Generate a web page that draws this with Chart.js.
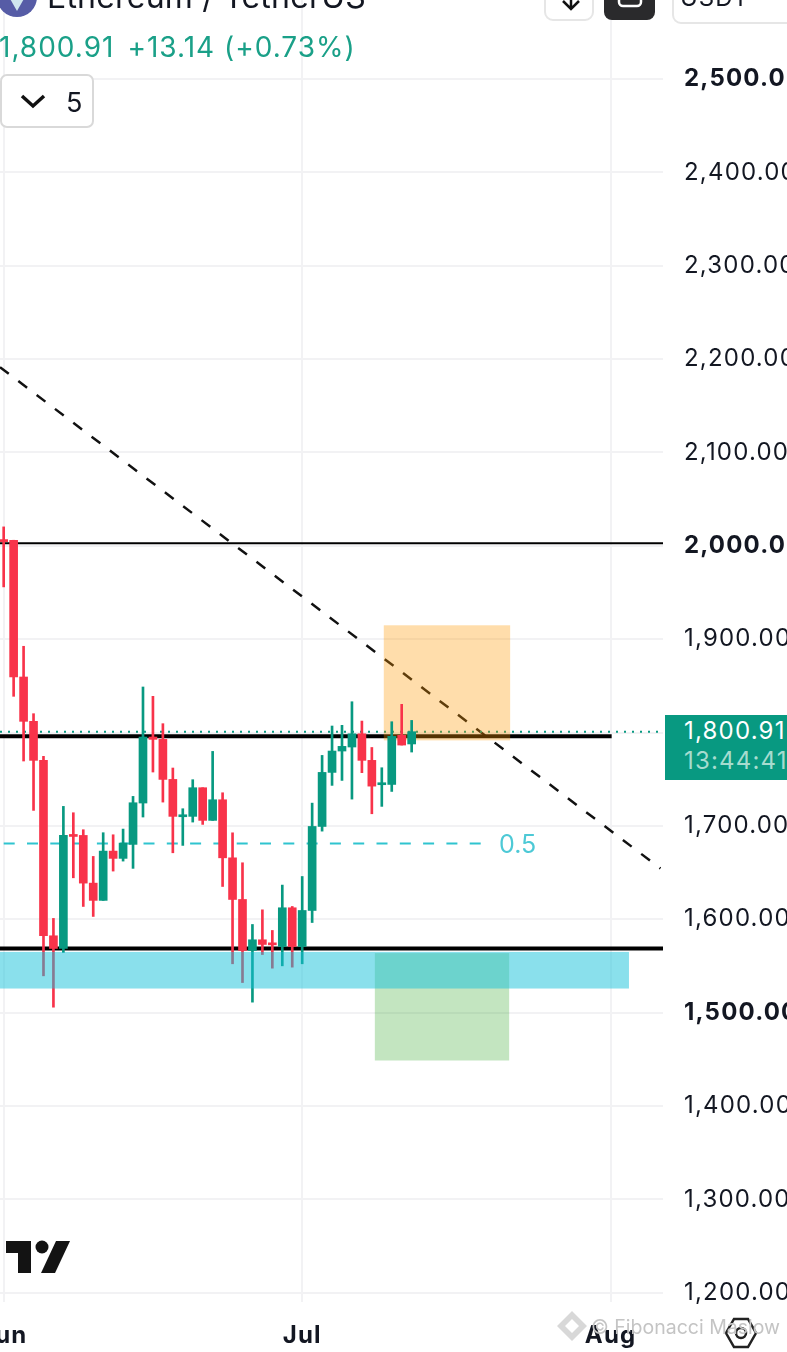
<!DOCTYPE html>
<html>
<head>
<meta charset="utf-8">
<title>Ethereum / TetherUS</title>
<script src="https://cdn.jsdelivr.net/npm/chart.js@4"></script>
<style>
html, body { margin: 0; padding: 0; background: #fff; overflow: hidden; }
body { position: relative; width: 787px; height: 1352px; font-family: Inter, "Noto Sans", sans-serif; }
canvas { position: absolute; left: 0; top: 0; }
.abs { position: absolute; white-space: nowrap; }
</style>
</head>
<body>
<canvas id="chart" width="787" height="1352"></canvas>

<!-- top toolbar, cut by the screenshot edge -->
<svg class="abs" style="left:0;top:0" width="787" height="140">
    <circle cx="17" cy="-3" r="20" fill="#565ca6"/>
    <path d="M17 -3 L25 -3 L17 11 L9 -3 Z" fill="#cfe6ee"/>
    <rect x="545" y="-30" width="48" height="50" rx="8" fill="#fff" stroke="#e6e6e6" stroke-width="2"/>
    <path d="M563 1 L571 9 L579 1 M571 9 L571 -4" fill="none" stroke="#111" stroke-width="2.5"/>
    <rect x="604" y="-30" width="51" height="50" rx="8" fill="#2a2a2c"/>
    <rect x="619" y="-14" width="22" height="20" rx="4" fill="none" stroke="#fff" stroke-width="2.5"/>
    <rect x="673" y="-30" width="130" height="53" rx="8" fill="#fff" stroke="#e6e6e6" stroke-width="2"/>
    <rect x="1" y="75" width="92" height="52" rx="6" fill="#fff" stroke="#d9d9d9" stroke-width="2"/>
    <path d="M22 96 L33 106 L44 96" fill="none" stroke="#111" stroke-width="3.5"/>
</svg>
<div class="abs" style="left:47px;top:-23px;font-size:32px;letter-spacing:0.2px;color:#131722">Ethereum / TetherUS</div>
<div class="abs" style="left:680px;top:-17px;font-size:24px;color:#131722;letter-spacing:1px">USDT</div>
<div class="abs" style="left:-1px;top:30px;font-size:28px;letter-spacing:1px;color:#1aa088"><span>1,800.91</span><span style="margin-left:13px">+13.14 (+0.73%)</span></div>
<div class="abs" style="left:66px;top:86px;font-size:27px;color:#131722">5</div>

<div class="abs" style="left:499px;top:829px;font-size:25px;color:#4dc9d6">0.5</div>

<!-- last price tag -->
<div class="abs" style="left:665px;top:715px;width:122px;height:65px;background:#089981;overflow:hidden">
    <div class="abs" style="left:19px;top:1px;font-size:24px;letter-spacing:1.2px;color:#fff">1,800.91</div>
    <div class="abs" style="left:19px;top:31px;font-size:24px;letter-spacing:1.2px;color:#a6dccf">13:44:41</div>
</div>

<!-- TradingView mark -->
<svg class="abs" style="left:0;top:1235px" width="80" height="45">
    <path d="M6 6 H31 V38 H18 V18 H6 Z" fill="#131313"/>
    <circle cx="42" cy="12" r="6.5" fill="#131313"/>
    <path d="M56 6 H70 L55 38 H41 Z" fill="#131313"/>
</svg>

<!-- watermark and settings icon -->
<svg class="abs" style="left:555px;top:1310px" width="220" height="42">
    <path d="M17 1 L32 16 L17 31 L2 16 Z M17 9 L24 16 L17 23 L10 16 Z" fill="#d8d8d8" fill-rule="evenodd"/>
    <path d="M179 9 H193 L201 23 L193 37 H179 L171 23 Z" fill="none" stroke="#222" stroke-width="2.5"/>
    <circle cx="186" cy="23" r="5" fill="none" stroke="#222" stroke-width="2.5"/>
</svg>
<div class="abs" style="left:591px;top:1315px;font-size:19.5px;color:#c4c4c4">© Fibonacci Maslow</div>

<script>
// days counted from Jun 1
const days = [0, 1, 2, 3, 4, 5, 6, 7, 8, 9, 10, 11, 12, 13, 14, 15, 16, 17, 18, 19, 20,
    21, 22, 23, 24, 25, 26, 27, 28, 29, 30, 31, 32, 33, 34, 35, 36, 37, 38, 39, 40, 41];
const opens = [2006.7, 2006, 1859.5, 1812, 1770.2, 1582.3, 1568.7, 1690.5, 1689.8, 1638.7, 1620.2,
    1673, 1665.2, 1680.2, 1724.5, 1795.2, 1792.7, 1749.8, 1709.8, 1710.2, 1740.9,
    1705.9, 1728, 1665.8, 1621.2, 1566.6, 1578, 1574, 1570.8, 1612.3, 1570.8,
    1609.4, 1699.4, 1757.3, 1780.2, 1784.5, 1798.7, 1770.2, 1744.1, 1744.4, 1797, 1787.77];
const highs = [2020.3, 2006, 1892.4, 1820.2, 1774.5, 1600.9, 1720.9, 1714.1, 1695.9, 1667.3, 1692.7,
    1690.5, 1696.6, 1731.6, 1848.8, 1838.8, 1809.5, 1762, 1718.4, 1749.5, 1740.9,
    1779.8, 1735.5, 1692.6, 1660.5, 1594.4, 1610.1, 1588, 1636.6, 1613.7, 1645.8,
    1724.4, 1775.5, 1807, 1807.7, 1833, 1812.3, 1784, 1762.3, 1811.6, 1830.2, 1813];
const lows = [1956, 1838.8, 1769.5, 1716.6, 1539.4, 1505.8, 1564.4, 1644.4, 1613.7, 1603, 1620.2,
    1651.6, 1662.3, 1654.5, 1709.5, 1757.7, 1725.5, 1671.2, 1679.1, 1704.1, 1701.6,
    1705.9, 1635.1, 1552.3, 1532.2, 1511.2, 1562.2, 1547.6, 1550.1, 1548.7, 1552.3,
    1596.5, 1694.4, 1743.4, 1748.7, 1728.7, 1757, 1713, 1720.9, 1736.9, 1786.6, 1779.1];
const closes = [2004.5, 1859.5, 1812, 1770.2, 1582.3, 1568.7, 1689.8, 1688.7, 1638.7, 1620.2, 1673,
    1665.2, 1681.6, 1724.8, 1795.2, 1792.7, 1749.8, 1710.2, 1711.2, 1740.9, 1705.9,
    1728, 1665.8, 1621.2, 1566.6, 1578, 1573, 1572.6, 1612.3, 1570.8, 1609.4,
    1699.4, 1757.3, 1780.2, 1785.2, 1798.7, 1770.2, 1742.6, 1745.2, 1795.9, 1786.6, 1800.91];

const priceTicks = [1200, 1300, 1400, 1500, 1600, 1700, 1800, 1900, 2000, 2100, 2200, 2300, 2400, 2500];
const boldPrices = [1500, 2000, 2500];
const monthTicks = [0, 30, 61];
const monthLabels = ['Jun', 'Jul', 'Aug'];

// drawn levels and zones, [from day, to day] and price
const xStart = -0.37, xEnd = 66.26;
const yMin = 1190, yMax = 2584.7;
const level2000 = 2002.7;
const levelMid = 1795.9;
const levelLow = 1568.7;
const levelFib = 1681.2;
const lastPrice = 1800.91;
const midEnd = 61.1;
const fibEnd = 48.1;
const trendDays = [-0.37, 66];
const trendPrices = [2191.4, 1654.4];
const zoneBlue = { days: [-0.37, 62.84], prices: [1525.8, 1565] };
const zoneGreen = { days: [37.3, 50.8], prices: [1448.7, 1563.7] };
const zoneOrange = { days: [38.2, 50.9], prices: [1791.6, 1914.9] };

const green = '#089981';
const red = '#f8334a';
const candleColors = closes.map((c, i) => (c >= opens[i] ? green : red));

function hline(value, from, to, color, width, dash, dashOffset) {
    return {
        type: 'line',
        data: [{ x: from, y: value }, { x: to, y: value }],
        borderColor: color,
        borderWidth: width,
        borderDash: dash || [],
        borderDashOffset: dashOffset || 0,
        pointRadius: 0,
        order: 2
    };
}

function fillZone(chart, zone, color) {
    const { ctx, scales: { x, y } } = chart;
    const left = x.getPixelForValue(zone.days[0]);
    const right = x.getPixelForValue(zone.days[1]);
    const top = y.getPixelForValue(zone.prices[1]);
    const bottom = y.getPixelForValue(zone.prices[0]);
    ctx.save();
    ctx.fillStyle = color;
    ctx.fillRect(left, top, right - left, bottom - top);
    ctx.restore();
}

const zones = {
    id: 'zones',
    beforeDraw(chart) {
        // the axis digits in the picture are tracked wider than Inter
        chart.ctx.letterSpacing = '1.2px';
    },
    beforeDatasetsDraw(chart) {
        fillZone(chart, zoneGreen, 'rgba(21,153,9,0.256)');
    },
    // orange sits over the lines but under the candles
    beforeDatasetDraw(chart, args) {
        if (args.index === 0) fillZone(chart, zoneOrange, 'rgba(255,152,0,0.33)');
    },
    // blue is see-through over the wicks and the green box
    afterDatasetsDraw(chart) {
        fillZone(chart, zoneBlue, 'rgba(21,193,217,0.5)');
    }
};

new Chart(document.getElementById('chart'), {
    type: 'bar',
    plugins: [zones],
    data: {
        datasets: [
            {
                data: days.map((d, i) => ({ x: d, y: [lows[i], highs[i]] })),
                backgroundColor: candleColors,
                barThickness: 2,
                grouped: false,
                order: 1
            },
            {
                data: days.map((d, i) => ({ x: d, y: [opens[i], closes[i]] })),
                backgroundColor: candleColors,
                barThickness: 8,
                minBarLength: 2,
                grouped: false,
                order: 0
            },
            hline(level2000, xStart, xEnd, '#000', 2),
            hline(levelMid, xStart, midEnd, '#000', 4),
            hline(levelLow, xStart, xEnd, '#000', 4),
            hline(levelFib, xStart, fibEnd, '#2fc4cf', 2, [11, 12.3], 19.6),
            hline(lastPrice, xStart, xEnd, '#089981', 2, [2, 6]),
            {
                type: 'line',
                data: trendDays.map((d, i) => ({ x: d, y: trendPrices[i] })),
                borderColor: '#111',
                borderWidth: 2.5,
                borderDash: [11, 12],
                pointRadius: 0,
                order: 2
            }
        ]
    },
    options: {
        responsive: false,
        animation: false,
        devicePixelRatio: 1,
        layout: { padding: 0 },
        plugins: { legend: { display: false }, tooltip: { enabled: false } },
        scales: {
            x: {
                type: 'linear',
                offset: false,
                min: xStart,
                max: xEnd,
                border: { display: false },
                grid: { color: '#f2f2f4', lineWidth: 2, drawTicks: false, offset: false },
                afterBuildTicks: (axis) => { axis.ticks = monthTicks.map((v) => ({ value: v })); },
                afterFit: (axis) => { axis.height = 50; axis.paddingLeft = 0; axis.paddingRight = 0; },
                ticks: {
                    autoSkip: false,
                    maxRotation: 0,
                    padding: 19,
                    color: '#131722',
                    font: { family: 'Inter', size: 24, weight: 'bold' },
                    callback: (v) => monthLabels[monthTicks.indexOf(v)]
                }
            },
            y: {
                position: 'right',
                min: yMin,
                max: yMax,
                border: { display: false },
                grid: { color: '#f2f2f4', lineWidth: 2, drawTicks: false },
                afterBuildTicks: (axis) => { axis.ticks = priceTicks.map((v) => ({ value: v })); },
                afterFit: (axis) => { axis.width = 124; axis.paddingTop = 0; axis.paddingBottom = 0; },
                ticks: {
                    autoSkip: false,
                    padding: 21,
                    color: '#131722',
                    font: (ctx) => ({
                        family: 'Inter',
                        size: 24,
                        weight: boldPrices.includes(ctx.tick && ctx.tick.value) ? 'bold' : 'normal'
                    }),
                    callback: (v) => v.toLocaleString('en-US', { minimumFractionDigits: 2 })
                }
            }
        }
    }
});
</script>
</body>
</html>
